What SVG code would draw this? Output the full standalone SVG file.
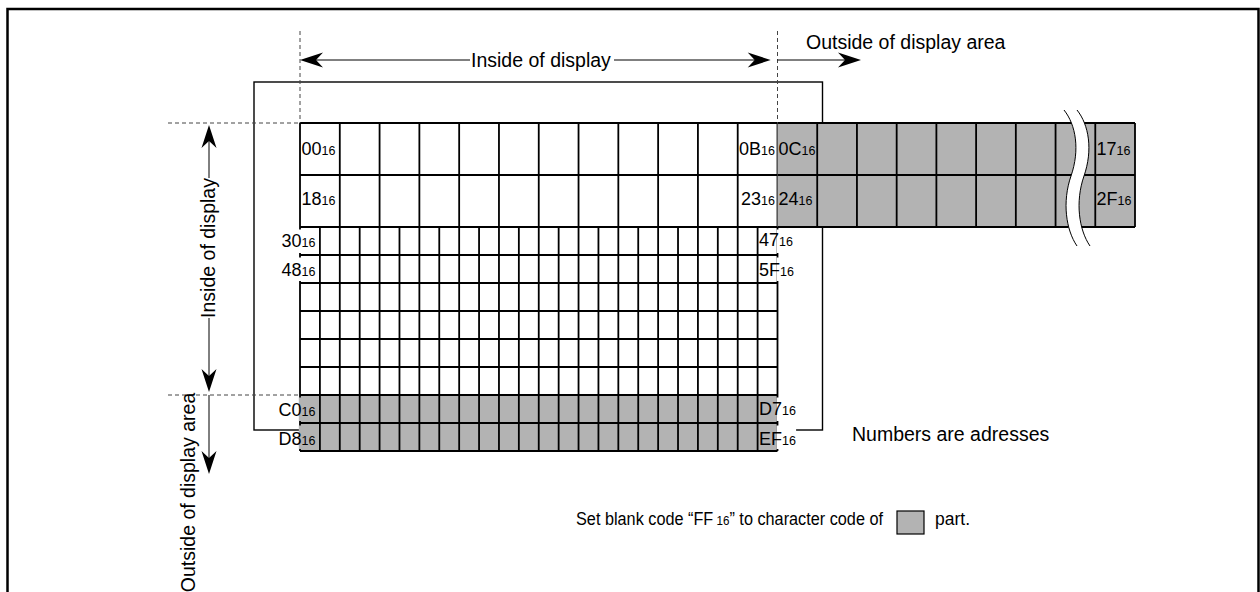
<svg xmlns="http://www.w3.org/2000/svg" xmlns:xlink="http://www.w3.org/1999/xlink" width="1260" height="592" viewBox="0 0 1260 592">
<style>
text{font-family:"Liberation Sans",Arial,sans-serif;fill:#000}
.big{font-size:19.5px}
.lb{font-size:18px}
.sb{font-size:12.5px}
.grid{stroke:#000;stroke-width:1.8;fill:none}
.thin{stroke:#000;stroke-width:1;fill:none}
.dash{stroke:#444;stroke-width:1;stroke-dasharray:4,3;fill:none}
.grey{fill:#b3b3b3}
</style>
<defs>
<path id="ah" d="M0,0 L-23,-7.5 L-16,0 L-23,7.5 Z" fill="#000"/>
</defs>
<rect x="7.5" y="9" width="1251" height="620" fill="none" stroke="#000" stroke-width="2.5"/>
<g id="display-frame">
<rect x="254" y="82" width="568.5" height="348" fill="none" stroke="#000" stroke-width="1.4"/>
</g>
<g id="grid-inside">
<rect x="300" y="123" width="477.5" height="272" fill="#fff"/>
<rect x="300" y="395" width="477.5" height="56" class="grey"/>
<path class="grid" d="M300,123H777.5M300,175H777.5M300,227H777.5M300,255H777.5M300,283H777.5M300,311H777.5M300,339H777.5M300,367H777.5M300,395H777.5M300,423H777.5M300,451H777.5"/>
<path class="grid" d="M300,123V451M339.79,123V227M379.58,123V227M419.38,123V227M459.17,123V227M498.96,123V227M538.75,123V227M578.54,123V227M618.33,123V227M658.13,123V227M697.92,123V227M737.71,123V227M777.5,123V451"/>
<path class="grid" d="M319.9,227V451M339.79,227V451M359.69,227V451M379.58,227V451M399.48,227V451M419.38,227V451M439.27,227V451M459.17,227V451M479.06,227V451M498.96,227V451M518.85,227V451M538.75,227V451M558.65,227V451M578.54,227V451M598.44,227V451M618.33,227V451M638.23,227V451M658.13,227V451M678.02,227V451M697.92,227V451M717.81,227V451M737.71,227V451M757.6,227V451"/>
</g>
<g id="grid-outside">
<rect x="777.5" y="123" width="357.5" height="104" class="grey"/>
<path class="grid" d="M777.5,123H1135M777.5,175H1135M777.5,227H1135M817.22,123V227M856.94,123V227M896.67,123V227M936.39,123V227M976.11,123V227M1015.83,123V227M1055.56,123V227M1095.28,123V227M1135,123V227"/>
</g>
<g id="break">
<path d="M1064,110 C1076,125 1080,150 1071,176 C1062,202 1066,230 1077,246 L1090,246 C1079,230 1075,202 1084,176 C1093,150 1089,125 1077,110 Z" fill="#fff"/>
<path class="thin" d="M1064,110 C1076,125 1080,150 1071,176 C1062,202 1066,230 1077,246"/>
<path class="thin" d="M1077,110 C1089,125 1093,150 1084,176 C1075,202 1079,230 1090,246"/>
</g>
<g id="label-masks">
<rect x="298.8" y="229.5" width="17.5" height="23.5" fill="#fff"/>
<rect x="298.8" y="257.5" width="17.5" height="23.5" fill="#fff"/>
<rect x="298.8" y="397.5" width="17.5" height="23.5" class="grey"/>
<rect x="298.8" y="425.5" width="17.5" height="23.5" class="grey"/>
<rect x="776.6" y="229.5" width="19.5" height="23.5" fill="#fff"/>
<rect x="776.6" y="257.5" width="19.5" height="23.5" fill="#fff"/>
<rect x="776.6" y="397.5" width="19.5" height="23.5" fill="#fff"/>
<rect x="776.6" y="425.5" width="19.5" height="23.5" fill="#fff"/>
</g>
<g id="addresses">
<text class="lb" x="301.5" y="155">00<tspan class="sb">16</tspan></text>
<text class="lb" x="775" y="155" text-anchor="end">0B<tspan class="sb">16</tspan></text>
<text class="lb" x="778.5" y="155">0C<tspan class="sb">16</tspan></text>
<text class="lb" x="1096.5" y="155">17<tspan class="sb">16</tspan></text>
<text class="lb" x="301.5" y="205">18<tspan class="sb">16</tspan></text>
<text class="lb" x="775" y="205" text-anchor="end">23<tspan class="sb">16</tspan></text>
<text class="lb" x="778.5" y="205">24<tspan class="sb">16</tspan></text>
<text class="lb" x="1096.5" y="205">2F<tspan class="sb">16</tspan></text>
<text class="lb" x="315.5" y="247" text-anchor="end">30<tspan class="sb">16</tspan></text>
<text class="lb" x="315.5" y="275.5" text-anchor="end">48<tspan class="sb">16</tspan></text>
<text class="lb" x="759" y="246">47<tspan class="sb">16</tspan></text>
<text class="lb" x="759" y="275.5">5F<tspan class="sb">16</tspan></text>
<text class="lb" x="315.5" y="415.5" text-anchor="end">C0<tspan class="sb">16</tspan></text>
<text class="lb" x="315.5" y="444.5" text-anchor="end">D8<tspan class="sb">16</tspan></text>
<text class="lb" x="759" y="415">D7<tspan class="sb">16</tspan></text>
<text class="lb" x="759" y="444.5">EF<tspan class="sb">16</tspan></text>
</g>
<g id="connectors">
<path class="dash" d="M300,31V123M777.5,31V123M168,123H300M168,395H300"/>
<path class="thin" d="M316,60H470M614,60H755M777.5,60H845"/>
<use xlink:href="#ah" transform="translate(300,60) rotate(180)"/>
<use xlink:href="#ah" transform="translate(770.7,60)"/>
<use xlink:href="#ah" transform="translate(861,60)"/>
<path class="thin" d="M209,141V178M209,318V376M209,395V458"/>
<use xlink:href="#ah" transform="translate(209,125) rotate(-90)"/>
<use xlink:href="#ah" transform="translate(209,392) rotate(90)"/>
<use xlink:href="#ah" transform="translate(209,474) rotate(90)"/>
</g>
<g id="axis-labels">
<text class="big" x="471" y="66.5">Inside of display</text>
<text class="big" x="806" y="48.5">Outside of display area</text>
<text class="big" transform="translate(215,248) rotate(-90)" text-anchor="middle">Inside of display</text>
<text class="big" transform="translate(194.5,492.5) rotate(-90)" text-anchor="middle" font-size="19px">Outside of display area</text>
</g>
<g id="legend">
<text class="big" x="852" y="441">Numbers are adresses</text>
<text x="576" y="525" font-size="17.5px" textLength="307" lengthAdjust="spacingAndGlyphs">Set blank code “FF<tspan class="sb" font-size="12px"> 16</tspan>” to character code of</text>
<rect x="897" y="511" width="27" height="23" class="grey" stroke="#000" stroke-width="1.2"/>
<text x="935" y="525" font-size="17.5px">part.</text>
</g>
</svg>
